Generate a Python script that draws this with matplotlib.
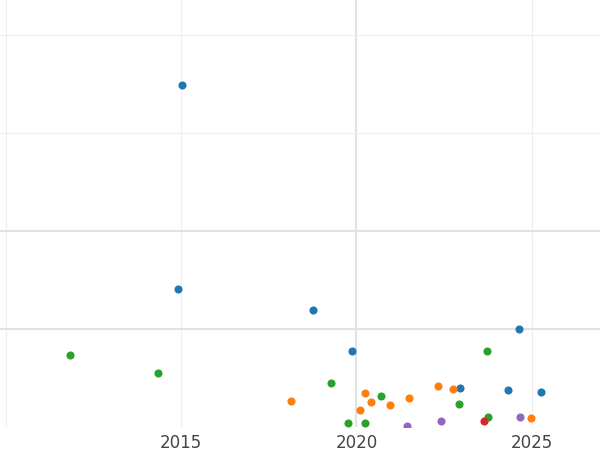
import matplotlib
matplotlib.use("Agg")
import matplotlib.pyplot as plt

# values (x in years, y in gridline units)
blue_x = [2015.03, 2014.91, 2018.76, 2019.87, 2022.95, 2024.32, 2024.63, 2025.26]
blue_y = [3.49, 1.41, 1.19, 0.78, 0.40, 0.38, 1.00, 0.36]
green_x = [2011.84, 2014.34, 2019.27, 2019.76, 2020.24, 2020.70, 2022.92, 2023.72, 2023.75]
green_y = [0.73, 0.55, 0.45, 0.04, 0.04, 0.32, 0.23, 0.78, 0.10]
orange_x = [2018.13, 2020.10, 2020.24, 2020.41, 2020.95, 2021.50, 2022.32, 2022.75, 2024.97]
orange_y = [0.27, 0.17, 0.35, 0.26, 0.22, 0.30, 0.42, 0.39, 0.09]
purple_x = [2021.44, 2022.41, 2024.66]
purple_y = [0.01, 0.06, 0.10]
red_x = [2023.63]
red_y = [0.06]

series = [
    (blue_x, blue_y, "#1f77b4"),
    (green_x, green_y, "#2ca02c"),
    (orange_x, orange_y, "#ff7f0e"),
    (purple_x, purple_y, "#9467bd"),
    (red_x, red_y, "#d62728"),
]

fig = plt.figure(figsize=(6, 4.5), dpi=100)
ax = fig.add_axes([0, 23 / 450, 1, 427 / 450])

for x, y, c in series:
    ax.scatter(x, y, s=34, color=c, zorder=3, clip_on=True, linewidths=0)

ax.set_xlim(2009.84, 2026.94)
ax.set_ylim(0, 4.357)
for xv in [2010, 2015, 2025]:
    ax.axvline(xv, color="#efefef", lw=0.8, zorder=0)
ax.axvline(2020, color="#e2e2e2", lw=1.5, zorder=0)
for yv in [3, 4]:
    ax.axhline(yv, color="#efefef", lw=0.8, zorder=0)
for yv in [1, 2]:
    ax.axhline(yv, color="#e2e2e2", lw=1.5, zorder=0)

ax.set_xticks([2015, 2020, 2025])
ax.set_yticks([])
ax.tick_params(axis="x", length=0, labelsize=12, labelcolor="#444444", pad=5)
for s in ax.spines.values():
    s.set_visible(False)

fig.savefig("out.png", dpi=100)
